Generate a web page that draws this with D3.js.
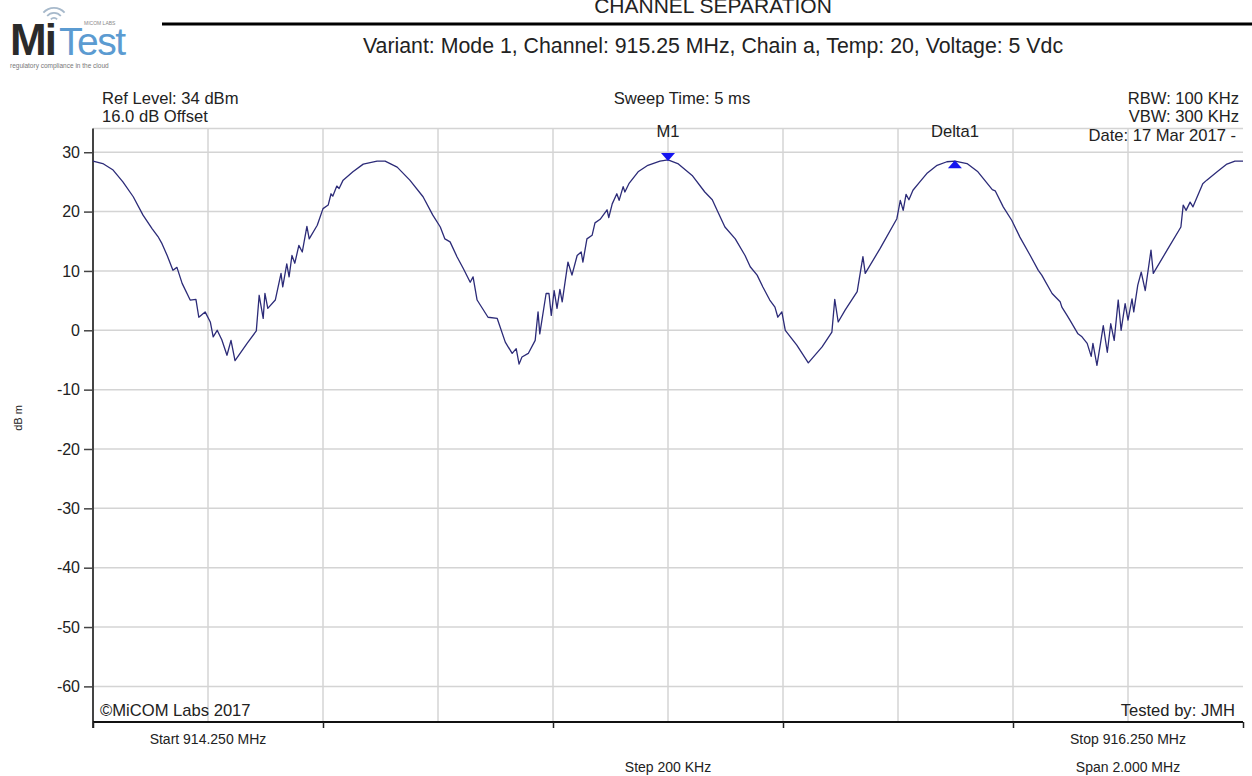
<!DOCTYPE html>
<html>
<head>
<meta charset="utf-8">
<script src="https://cdn.jsdelivr.net/npm/d3@7"></script>
<style>
  body { margin: 0; background: #fff; }
  svg text { font-family: "Liberation Sans", Arial, sans-serif; fill: #222; }
</style>
</head>
<body>
<div id="chart"></div>
<script>
// sweep trace (MHz, dBm)
var traceMHz = [
  914.250, 914.267, 914.285, 914.302, 914.320, 914.337, 914.353, 914.363, 914.370, 914.379,
  914.389, 914.396, 914.405, 914.419, 914.429, 914.434, 914.445, 914.454, 914.459, 914.466,
  914.474, 914.483, 914.490, 914.497, 914.518, 914.534, 914.539, 914.546, 914.549, 914.554,
  914.567, 914.577, 914.580, 914.587, 914.591, 914.596, 914.601, 914.608, 914.614, 914.622,
  914.626, 914.640, 914.650, 914.659, 914.664, 914.667, 914.674, 914.678, 914.685, 914.702,
  914.720, 914.744, 914.758, 914.779, 914.801, 914.824, 914.841, 914.854, 914.862, 914.871,
  914.883, 914.894, 914.906, 914.911, 914.918, 914.937, 914.953, 914.967, 914.979, 914.986,
  914.991, 914.996, 915.007, 915.019, 915.024, 915.027, 915.038, 915.043, 915.047, 915.052,
  915.057, 915.062, 915.066, 915.076, 915.083, 915.092, 915.099, 915.102, 915.109, 915.118,
  915.123, 915.132, 915.144, 915.147, 915.153, 915.161, 915.165, 915.172, 915.175, 915.182,
  915.198, 915.215, 915.236, 915.250, 915.267, 915.292, 915.314, 915.327, 915.337, 915.349,
  915.367, 915.384, 915.393, 915.405, 915.415, 915.427, 915.436, 915.441, 915.448, 915.454,
  915.474, 915.494, 915.518, 915.535, 915.540, 915.546, 915.558, 915.579, 915.589, 915.593,
  915.619, 915.648, 915.654, 915.659, 915.664, 915.669, 915.676, 915.688, 915.700, 915.718,
  915.735, 915.749, 915.770, 915.789, 915.814, 915.819, 915.833, 915.848, 915.862, 915.880,
  915.894, 915.900, 915.918, 915.932, 915.935, 915.944, 915.949, 915.963, 915.970, 915.979,
  915.986, 915.989, 915.996, 916.003, 916.007, 916.014, 916.020, 916.026, 916.033, 916.038,
  916.045, 916.050, 916.057, 916.060, 916.067, 916.073, 916.080, 916.090, 916.094, 916.118,
  916.142, 916.146, 916.151, 916.158, 916.163, 916.180, 916.187, 916.205, 916.222, 916.236,
  916.250
];
var traceDbm = [
  28.5, 28.1, 27.0, 25.0, 22.5, 19.4, 17.1, 15.8, 14.6, 12.6,
  10.1, 10.6, 7.9, 5.1, 5.2, 2.2, 3.1, 1.4, -1.1, 0.0,
  -1.6, -4.2, -1.7, -5.1, -2.2, -0.1, 5.9, 2.0, 6.2, 3.7,
  5.1, 9.6, 7.3, 11.2, 9.0, 12.6, 11.3, 14.3, 13.2, 17.5,
  15.4, 17.7, 20.5, 21.1, 23.0, 22.6, 24.3, 23.9, 25.3, 26.7,
  28.0, 28.5, 28.5, 27.5, 25.3, 22.5, 19.4, 17.4, 15.4, 14.9,
  12.4, 10.4, 8.1, 9.0, 5.1, 2.2, 2.0, -2.0, -3.9, -3.1,
  -5.7, -4.5, -3.9, -1.7, 3.1, -0.6, 6.2, 6.2, 2.5, 6.7,
  3.7, 6.9, 4.8, 11.5, 9.3, 12.6, 13.2, 11.5, 15.4, 16.0,
  18.1, 18.7, 20.3, 19.0, 21.3, 23.0, 21.9, 24.2, 23.3, 24.7,
  26.7, 27.8, 28.5, 28.7, 28.1, 26.1, 23.3, 22.0, 19.9, 17.4,
  15.4, 12.6, 10.7, 9.3, 7.3, 5.1, 3.9, 2.2, 3.1, 0.0,
  -2.5, -5.5, -2.8, -0.3, 5.2, 1.4, 3.4, 6.5, 12.4, 9.6,
  13.8, 18.8, 21.9, 20.2, 22.9, 22.0, 23.6, 25.0, 26.4, 27.8,
  28.4, 28.5, 28.1, 26.7, 23.7, 23.5, 20.8, 18.5, 15.7, 12.6,
  10.1, 9.3, 6.2, 4.8, 3.9, 2.5, 1.7, -0.6, -1.1, -2.2,
  -4.4, -2.2, -5.9, -1.7, 0.8, -3.7, 1.1, -1.7, 5.1, 0.0,
  4.5, 1.7, 5.3, 3.1, 7.6, 9.8, 6.7, 13.5, 9.6, 13.5,
  17.4, 21.1, 20.2, 21.6, 20.8, 24.7, 25.3, 26.7, 28.0, 28.5,
  28.5
];

var markerNames = ["M1", "Delta1"];
var markerMHz = [915.250, 915.749];
var markerDbm = [28.7, 28.5];

var yTicks = [-60, -50, -40, -30, -20, -10, 0, 10, 20, 30];
var startMHz = 914.25, stopMHz = 916.25, stepMHz = 0.2;

var width = 1252, height = 776;
var plotLeft = 93, plotRight = 1243, plotTop = 128.5, plotBottom = 722;

var svg = d3.select('#chart').append('svg')
  .attr('width', width)
  .attr('height', height);

var x = d3.scaleLinear().domain([startMHz, stopMHz]).range([plotLeft, plotRight]);
var y = d3.scaleLinear().domain([-66, 34]).range([plotBottom, plotTop]);

// ---- header / logo
var logo = svg.append('g');
[5, 10, 15].forEach(function(r){
  logo.append('path')
    .attr('d', d3.arc()({innerRadius: r - 1.8, outerRadius: r, startAngle: -0.85, endAngle: 0.85}))
    .attr('transform', 'translate(54,22)')
    .attr('fill', '#a7b9cb');
});
logo.append('text').attr('x', 10).attr('y', 55)
  .attr('font-size', 44).attr('font-weight', 'bold').style('fill', '#2b2b2b')
  .attr('letter-spacing', -2).text('Mi');
logo.append('text').attr('x', 59).attr('y', 55)
  .attr('font-size', 39).style('fill', '#5b9bd1')
  .attr('letter-spacing', -1.5).text('Test');
logo.append('text').attr('x', 84).attr('y', 25)
  .attr('font-size', 5).style('fill', '#888').text('MICOM LABS');
logo.append('text').attr('x', 10).attr('y', 68)
  .attr('font-size', 6.5).style('fill', '#777').text('regulatory compliance in the cloud');

svg.append('line')
  .attr('x1', 162).attr('x2', width).attr('y1', 24).attr('y2', 24)
  .attr('stroke', '#000').attr('stroke-width', 3);

svg.append('text').attr('x', 713).attr('y', 13)
  .attr('text-anchor', 'middle').attr('font-size', 21).text('CHANNEL SEPARATION');
svg.append('text').attr('x', 713).attr('y', 53)
  .attr('text-anchor', 'middle').attr('font-size', 21.3)
  .text('Variant: Mode 1, Channel: 915.25 MHz, Chain a, Temp: 20, Voltage: 5 Vdc');

// ---- grid
var grid = svg.append('g').attr('stroke', '#d4d4d4').attr('stroke-width', 1.5);
yTicks.concat([34]).forEach(function(v){
  grid.append('line').attr('x1', plotLeft).attr('x2', plotRight)
    .attr('y1', y(v)).attr('y2', y(v));
});
d3.range(1, 10).forEach(function(i){
  var f = startMHz + i * stepMHz;
  grid.append('line').attr('x1', x(f)).attr('x2', x(f))
    .attr('y1', plotTop).attr('y2', plotBottom);
});

// ---- axes
var yAxis = svg.append('g')
  .attr('transform', 'translate(' + plotLeft + ',0)')
  .call(d3.axisLeft(y).tickValues(yTicks).tickSize(9).tickPadding(4)
    .tickFormat(function(d){ return String(d); }));
yAxis.select('.domain').attr('d', 'M0,' + plotTop + 'V' + (plotBottom + 6)).attr('stroke', '#444').attr('stroke-width', 2);
yAxis.selectAll('.tick line').attr('stroke', '#444').attr('stroke-width', 1.5);
yAxis.selectAll('.tick text').attr('font-size', 16).attr('font-family', null).style('fill', '#222');

var xAxis = svg.append('g')
  .attr('transform', 'translate(0,' + plotBottom + ')')
  .call(d3.axisBottom(x).tickValues(d3.range(0, 6).map(function(i){ return startMHz + i * 0.4; }))
    .tickSize(6).tickFormat(''));
xAxis.select('.domain').attr('d', 'M' + plotLeft + ',0H' + plotRight).attr('stroke', '#111').attr('stroke-width', 2);
xAxis.selectAll('.tick line').attr('stroke', '#222').attr('stroke-width', 1.5);

svg.append('text')
  .attr('transform', 'translate(22,418) rotate(-90)')
  .attr('text-anchor', 'middle').attr('font-size', 11).text('dB m');

// ---- info texts
var info = [
  {t: 'Ref Level: 34 dBm', x: 102, y: 104, a: 'start'},
  {t: '16.0 dB Offset', x: 102, y: 122, a: 'start'},
  {t: 'Sweep Time: 5 ms', x: 682, y: 104, a: 'middle'},
  {t: 'RBW: 100 KHz', x: 1239, y: 104, a: 'end'},
  {t: 'VBW: 300 KHz', x: 1239, y: 122, a: 'end'},
  {t: 'Date: 17 Mar 2017 -', x: 1236, y: 141, a: 'end'},
  {t: '\u00A9MiCOM Labs 2017', x: 100, y: 716, a: 'start'},
  {t: 'Tested by: JMH', x: 1235, y: 716, a: 'end'}
];
svg.selectAll('.info').data(info).enter().append('text')
  .attr('class', 'info')
  .attr('x', function(d){ return d.x; })
  .attr('y', function(d){ return d.y; })
  .attr('text-anchor', function(d){ return d.a; })
  .attr('font-size', 16.6)
  .text(function(d){ return d.t; });

var foot = [
  {t: 'Start 914.250 MHz', x: x(startMHz + 0.2), y: 744},
  {t: 'Stop 916.250 MHz', x: x(stopMHz - 0.2), y: 744},
  {t: 'Step 200 KHz', x: x(915.25), y: 772},
  {t: 'Span 2.000 MHz', x: x(stopMHz - 0.2), y: 772}
];
svg.selectAll('.foot').data(foot).enter().append('text')
  .attr('class', 'foot')
  .attr('x', function(d){ return d.x; })
  .attr('y', function(d){ return d.y; })
  .attr('text-anchor', 'middle')
  .attr('font-size', 14)
  .text(function(d){ return d.t; });

// ---- trace
var line = d3.line()
  .x(function(d){ return x(d[0]); })
  .y(function(d){ return y(d[1]); });

svg.append('path')
  .datum(d3.zip(traceMHz, traceDbm))
  .attr('d', line)
  .attr('fill', 'none')
  .attr('stroke', '#2c2b78')
  .attr('stroke-width', 1.3)
  .attr('stroke-linejoin', 'round');

// ---- markers
markerNames.forEach(function(name, i){
  var mx = x(markerMHz[i]), my = y(markerDbm[i]);
  var tri = i === 0
    ? 'M' + (mx - 7) + ',' + (my - 7) + 'L' + (mx + 7) + ',' + (my - 7) + 'L' + mx + ',' + (my + 1) + 'Z'
    : 'M' + (mx - 7) + ',' + (my + 7) + 'L' + (mx + 7) + ',' + (my + 7) + 'L' + mx + ',' + (my - 1) + 'Z';
  svg.append('path').attr('d', tri).attr('fill', '#1515f0');
  svg.append('text')
    .attr('x', mx).attr('y', 137)
    .attr('text-anchor', 'middle')
    .attr('font-size', 16.6)
    .text(name);
});
</script>
</body>
</html>
